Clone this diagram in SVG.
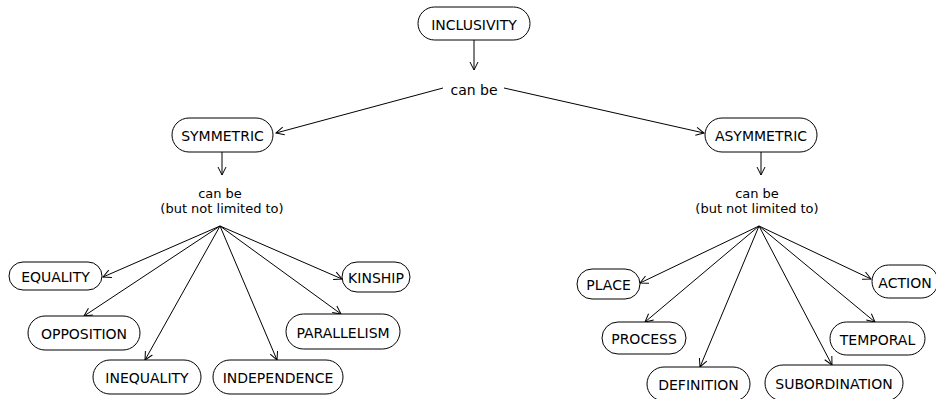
<svg xmlns="http://www.w3.org/2000/svg" width="936" height="399" viewBox="0 0 936 399">
<defs>
<marker id="arr" markerUnits="userSpaceOnUse" markerWidth="12" markerHeight="12" refX="9" refY="5" orient="auto">
<path d="M1,1 L9,5 L1,9" fill="none" stroke="#000" stroke-width="1"/>
</marker>
<style>
.n rect{fill:#fff;stroke:#000;stroke-width:1}
text{font-family:"DejaVu Sans","Liberation Sans",sans-serif;font-size:14px;fill:#000;text-anchor:middle}
text.l{font-size:13px}
.c line{stroke:#000;stroke-width:1;marker-end:url(#arr)}
</style>
</defs>
<rect width="936" height="399" fill="#fff"/>
<g class="c" id="connectors">
<line x1="474" y1="40" x2="474" y2="70"/>
<line x1="443" y1="88" x2="276" y2="133"/>
<line x1="504" y1="88" x2="704" y2="133"/>
<line x1="222" y1="152" x2="222" y2="175"/>
<line x1="761" y1="152" x2="761" y2="175"/>
<line x1="220" y1="226" x2="103" y2="277"/>
<line x1="220" y1="226" x2="84" y2="316"/>
<line x1="220" y1="226" x2="145" y2="360"/>
<line x1="220" y1="226" x2="277" y2="360"/>
<line x1="220" y1="226" x2="341" y2="314"/>
<line x1="220" y1="226" x2="342" y2="279"/>
<line x1="759" y1="226" x2="640" y2="283"/>
<line x1="759" y1="226" x2="645" y2="322"/>
<line x1="759" y1="226" x2="700" y2="367"/>
<line x1="759" y1="226" x2="832" y2="365"/>
<line x1="759" y1="226" x2="875" y2="322"/>
<line x1="759" y1="226" x2="871" y2="279"/>
</g>
<g id="label-top"><text x="474" y="95">can be</text></g>
<g id="label-sym"><text class="l" x="220" y="198">can be</text><text class="l" x="222" y="213">(but not limited to)</text></g>
<g id="label-asym"><text class="l" x="757" y="198">can be</text><text class="l" x="757" y="213">(but not limited to)</text></g>
<g class="n" id="inclusivity"><rect x="418" y="7" width="112" height="33" rx="16.5"/><text x="474" y="30">INCLUSIVITY</text></g>
<g class="n" id="symmetric"><rect x="172" y="118" width="101" height="34" rx="17"/><text x="222.5" y="141">SYMMETRIC</text></g>
<g class="n" id="asymmetric"><rect x="705" y="118" width="112" height="34" rx="17"/><text x="761" y="141">ASYMMETRIC</text></g>
<g class="n" id="equality"><rect x="9" y="262" width="93" height="28" rx="14"/><text x="55.5" y="282">EQUALITY</text></g>
<g class="n" id="opposition"><rect x="28" y="316" width="112" height="34" rx="17"/><text x="84" y="339">OPPOSITION</text></g>
<g class="n" id="inequality"><rect x="93" y="360" width="108" height="34" rx="17"/><text x="147" y="383">INEQUALITY</text></g>
<g class="n" id="independence"><rect x="213" y="360" width="130" height="34" rx="17"/><text x="278" y="383">INDEPENDENCE</text></g>
<g class="n" id="parallelism"><rect x="286" y="314" width="114" height="35" rx="17.5"/><text x="343" y="337.5">PARALLELISM</text></g>
<g class="n" id="kinship"><rect x="342" y="262" width="68" height="30" rx="15"/><text x="376" y="283">KINSHIP</text></g>
<g class="n" id="place"><rect x="577" y="269" width="63" height="30" rx="15"/><text x="608.5" y="290">PLACE</text></g>
<g class="n" id="process"><rect x="602" y="322" width="84" height="32" rx="16"/><text x="644" y="344">PROCESS</text></g>
<g class="n" id="definition"><rect x="647" y="367" width="103" height="34" rx="17"/><text x="698.5" y="390">DEFINITION</text></g>
<g class="n" id="subordination"><rect x="765" y="365" width="138" height="36" rx="18"/><text x="834" y="389">SUBORDINATION</text></g>
<g class="n" id="temporal"><rect x="830" y="322" width="95" height="33" rx="16.5"/><text x="877.5" y="344.5">TEMPORAL</text></g>
<g class="n" id="action"><rect x="872" y="265" width="66" height="33" rx="16.5"/><text x="905" y="287.5">ACTION</text></g>
</svg>
